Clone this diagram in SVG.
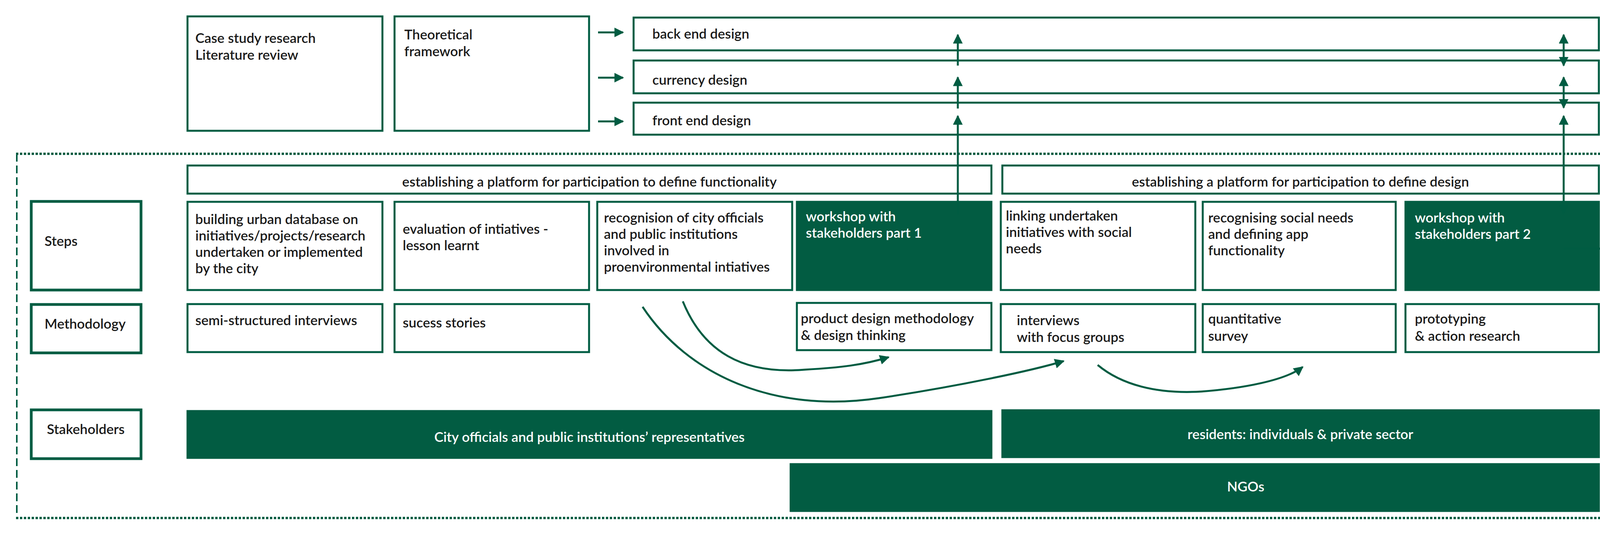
<svg xmlns="http://www.w3.org/2000/svg" width="4302" height="1368" viewBox="0 0 4302 1368">
<style>
.b{fill:#fff;stroke:#005c42;stroke-width:5}
.f{fill:#025c42;stroke:#025c42;stroke-width:5}
.l{fill:#fff;stroke:#005c42;stroke-width:7}
text{font-family:Lato,"Open Sans","Liberation Sans",sans-serif;font-size:35px;font-weight:600;fill:#1a1a1a}
.w{fill:#fff}
.c{text-anchor:middle}
.cn{fill:none;stroke:#005c42;stroke-width:5}
</style>
<defs>
<marker id="ah" viewBox="0 0 10 10" refX="9" refY="5" markerWidth="5" markerHeight="5" orient="auto-start-reverse" markerUnits="strokeWidth"><path d="M0,0 L10,5 L0,10 z" fill="#005c42"/></marker>
</defs>
<rect width="4302" height="1368" fill="#fff"/>
<g id="outer" fill="none" stroke="#005c42">
<line x1="41" y1="394" x2="4117" y2="394" stroke-width="6" stroke-dasharray="6 4"/>
<line x1="41" y1="1327" x2="4117" y2="1327" stroke-width="6" stroke-dasharray="6 4"/>
<line x1="43" y1="394" x2="43" y2="1327" stroke-width="4" stroke-dasharray="20 10"/>
<line x1="4117" y1="394" x2="4117" y2="1327" stroke-width="5" stroke-dasharray="10 8"/>
</g>
<g id="case"><rect class="b" x="480" y="42" width="499" height="293"/><text x="500" y="110">Case study research</text><text x="500" y="153">Literature review</text></g>
<g id="theory"><rect class="b" x="1010" y="42" width="498" height="293"/><text x="1035" y="101">Theoretical</text><text x="1035" y="144">framework</text></g>
<g id="backend"><rect class="b" x="1622" y="45" width="2471" height="84"/><text x="1670" y="99">back end design</text></g>
<g id="currency"><rect class="b" x="1622" y="155" width="2471" height="84"/><text x="1670" y="217">currency design</text></g>
<g id="frontend"><rect class="b" x="1622" y="263" width="2471" height="82"/><text x="1670" y="321">front end design</text></g>
<g id="hdr1"><rect class="b" x="480" y="424" width="2058" height="72"/><text class="c" x="1509" y="478">establishing a platform for participation to define functionality</text></g>
<g id="hdr2"><rect class="b" x="2566" y="424" width="1527" height="72"/><text class="c" x="3329" y="478">establishing a platform for participation to define design</text></g>
<g id="lblSteps"><rect class="l" x="80" y="516" width="281" height="227"/><text x="114" y="630">Steps</text></g>
<g id="lblMeth"><rect class="l" x="80" y="780" width="281" height="124"/><text x="114" y="842">Methodology</text></g>
<g id="lblStake"><rect class="l" x="80" y="1050" width="281" height="125"/><text x="120" y="1112">Stakeholders</text></g>
<g id="s1"><rect class="b" x="480" y="517" width="499" height="226"/><text x="500" y="574">building urban database on</text><text x="500" y="616">initiatives/projects/research</text><text x="500" y="658">undertaken or implemented</text><text x="500" y="700">by the city</text></g>
<g id="s2"><rect class="b" x="1010" y="517" width="498" height="226"/><text x="1031" y="599">evaluation of intiatives -</text><text x="1031" y="641">lesson learnt</text></g>
<g id="s3"><rect class="b" x="1529" y="517" width="499" height="226"/><text x="1546" y="570">recognision of city officials</text><text x="1546" y="612">and public institutions</text><text x="1546" y="654">involved in</text><text x="1546" y="696">proenvironmental intiatives</text></g>
<g id="s4"><rect class="f" x="2040" y="517" width="498" height="226"/><text class="w" x="2063" y="567">workshop with</text><text class="w" x="2063" y="609">stakeholders part 1</text></g>
<g id="s5"><rect class="b" x="2562" y="517" width="498" height="226"/><text x="2575" y="565">linking undertaken</text><text x="2575" y="607">initiatives with social</text><text x="2575" y="649">needs</text></g>
<g id="s6"><rect class="b" x="3079" y="517" width="494" height="226"/><text x="3093" y="570">recognising social needs</text><text x="3093" y="612">and defining app</text><text x="3093" y="654">functionality</text></g>
<g id="s7"><rect class="f" x="3598" y="517" width="495" height="226"/><text class="w" x="3622" y="570">workshop with</text><text class="w" x="3622" y="612">stakeholders part 2</text></g>
<g id="m1"><rect class="b" x="480" y="779" width="499" height="123"/><text x="500" y="833">semi-structured interviews</text></g>
<g id="m2"><rect class="b" x="1010" y="779" width="498" height="123"/><text x="1031" y="839">sucess stories</text></g>
<g id="m3"><rect class="b" x="2040" y="776" width="498" height="121"/><text x="2050" y="828">product design methodology</text><text x="2050" y="871">&amp; design thinking</text></g>
<g id="m4"><rect class="b" x="2562" y="779" width="498" height="123"/><text x="2603" y="833">interviews</text><text x="2603" y="876">with focus groups</text></g>
<g id="m5"><rect class="b" x="3079" y="779" width="494" height="123"/><text x="3093" y="829">quantitative</text><text x="3093" y="873">survey</text></g>
<g id="m6"><rect class="b" x="3598" y="779" width="495" height="123"/><text x="3622" y="829">prototyping</text><text x="3622" y="873">&amp; action research</text></g>
<g id="k1"><rect class="f" x="480" y="1053" width="2058" height="120"/><text class="w c" x="1509" y="1132">City officials and public institutions’ representatives</text></g>
<g id="k2"><rect class="f" x="2566" y="1051" width="1527" height="120"/><text class="w c" x="3329" y="1125">residents: individuals &amp; private sector</text></g>
<g id="k3"><rect class="f" x="2024" y="1189" width="2069" height="120"/><text class="w c" x="3189" y="1259">NGOs</text></g>
<g id="tbc"><text x="4198" y="608" style="font-size:48px;font-weight:400">tbc</text></g>
<g id="connectors" class="cn">
<path class="cn" d="M1531,83 H1595" marker-end="url(#ah)"/>
<path class="cn" d="M1531,199 H1595" marker-end="url(#ah)"/>
<path class="cn" d="M1531,311 H1595" marker-end="url(#ah)"/>
<path class="cn" d="M2452,549 V297" stroke-width="4" marker-end="url(#ah)"/>
<path class="cn" d="M2452,278 V198" stroke-width="4" marker-end="url(#ah)"/>
<path class="cn" d="M2452,168 V89" stroke-width="4" marker-end="url(#ah)"/>
<path class="cn" d="M4003,547 V297" stroke-width="4" marker-start="url(#ah)" marker-end="url(#ah)"/>
<path class="cn" d="M4003,276 V198" stroke-width="4" marker-start="url(#ah)" marker-end="url(#ah)"/>
<path class="cn" d="M4003,168 V89" stroke-width="4" marker-start="url(#ah)" marker-end="url(#ah)"/>
<path class="cn" d="M4003,637 H4256" marker-end="url(#ah)"/>
<path class="cn" d="M1645,786 C1760,960 1980,1060 2250,1020 C2450,990 2640,950 2723,925" stroke-width="4" marker-end="url(#ah)"/>
<path class="cn" d="M1748,772 C1800,900 1900,960 2060,947 C2150,942 2210,935 2275,915" stroke-width="4" marker-end="url(#ah)"/>
<path class="cn" d="M2810,935 C2870,985 2960,1010 3076,1003 C3180,995 3290,975 3335,940" stroke-width="4" marker-end="url(#ah)"/>
</g>
</svg>
